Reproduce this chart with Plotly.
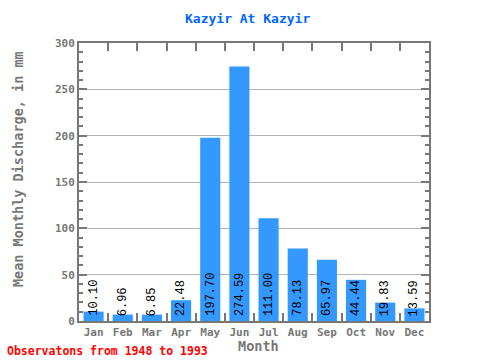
import plotly.graph_objects as go

months = ["Jan", "Feb", "Mar", "Apr", "May", "Jun", "Jul", "Aug", "Sep", "Oct", "Nov", "Dec"]
discharge = [10.10, 6.96, 6.85, 22.48, 197.70, 274.59, 111.00, 78.13, 65.97, 44.44, 19.83, 13.59]
labels = ["%.2f" % v for v in discharge]

AX = "#777777"
TXT = "#777777"

# plot area in pixels
L, R, T, B = 79, 429, 42.5, 321.5
def px(x):
    return (x - L) / (R - L)
def py(y):
    return (B - y) / (B - T)

fig = go.Figure()
fig.add_trace(go.Bar(x=months, y=discharge, marker=dict(color="#3399ff", line=dict(width=0)),
                     hoverinfo="x+y"))

anns = []
for m, lab in zip(months, labels):
    anns.append(dict(x=m, y=0, xref="x", yref="y", text=lab, textangle=-90,
                     showarrow=False, yanchor="bottom", xanchor="center", yshift=3,
                     font=dict(family="Liberation Mono", size=12, color="black")))

anns += [
    dict(x=px(247), y=py(18), xref="paper", yref="paper", text="<b>Kazyir At Kazyir</b>",
         showarrow=False, xanchor="center", yanchor="middle",
         font=dict(family="DejaVu Sans Mono", size=13, color="#0066ff")),
    dict(x=px(18), y=py(169), xref="paper", yref="paper",
         text="<b>Mean Monthly Discharge, in mm</b>", textangle=-90,
         showarrow=False, xanchor="center", yanchor="middle",
         font=dict(family="DejaVu Sans Mono", size=13.5, color=TXT)),
    dict(x=px(258), y=py(347), xref="paper", yref="paper",
         text="<b>Month</b>", showarrow=False, xanchor="center", yanchor="middle",
         font=dict(family="DejaVu Sans Mono", size=13.5, color=TXT)),
    dict(x=px(5), y=py(352), xref="paper", yref="paper",
         text="<b>Observatons from 1948 to 1993</b>", showarrow=False,
         xanchor="left", yanchor="middle",
         font=dict(family="DejaVu Sans Mono", size=11.5, color="#ff0000")),
]

fig.update_layout(
    width=480, height=360,
    margin=dict(l=L, r=480 - R, t=T, b=360 - B),
    paper_bgcolor="white", plot_bgcolor="white",
    showlegend=False,
    bargap=0.31,
    annotations=anns,
)

fig.update_xaxes(
    type="category", tickson="boundaries", ticks="inside", ticklen=8, tickwidth=2,
    tickcolor=AX, showline=True, linecolor=AX, linewidth=2, mirror="ticks",
    showgrid=False, tickangle=0,
    tickfont=dict(family="DejaVu Sans Mono", size=11, color=TXT, weight="bold"),
)
fig.update_yaxes(
    range=[0, 300], dtick=50, tick0=0, ticks="inside", ticklen=8, tickwidth=2,
    tickcolor=AX, showline=True, linecolor=AX, linewidth=2, mirror="ticks",
    showgrid=True, gridcolor="#b4b4b4", gridwidth=1, zeroline=False,
    minor=dict(dtick=10, ticks="inside", ticklen=4, tickwidth=2, tickcolor=AX, showgrid=False),
    tickfont=dict(family="DejaVu Sans Mono", size=11, color=TXT, weight="bold"),
)

fig.write_html("out.html", config={"displayModeBar": False},
               post_script="document.body.style.margin='0';")
